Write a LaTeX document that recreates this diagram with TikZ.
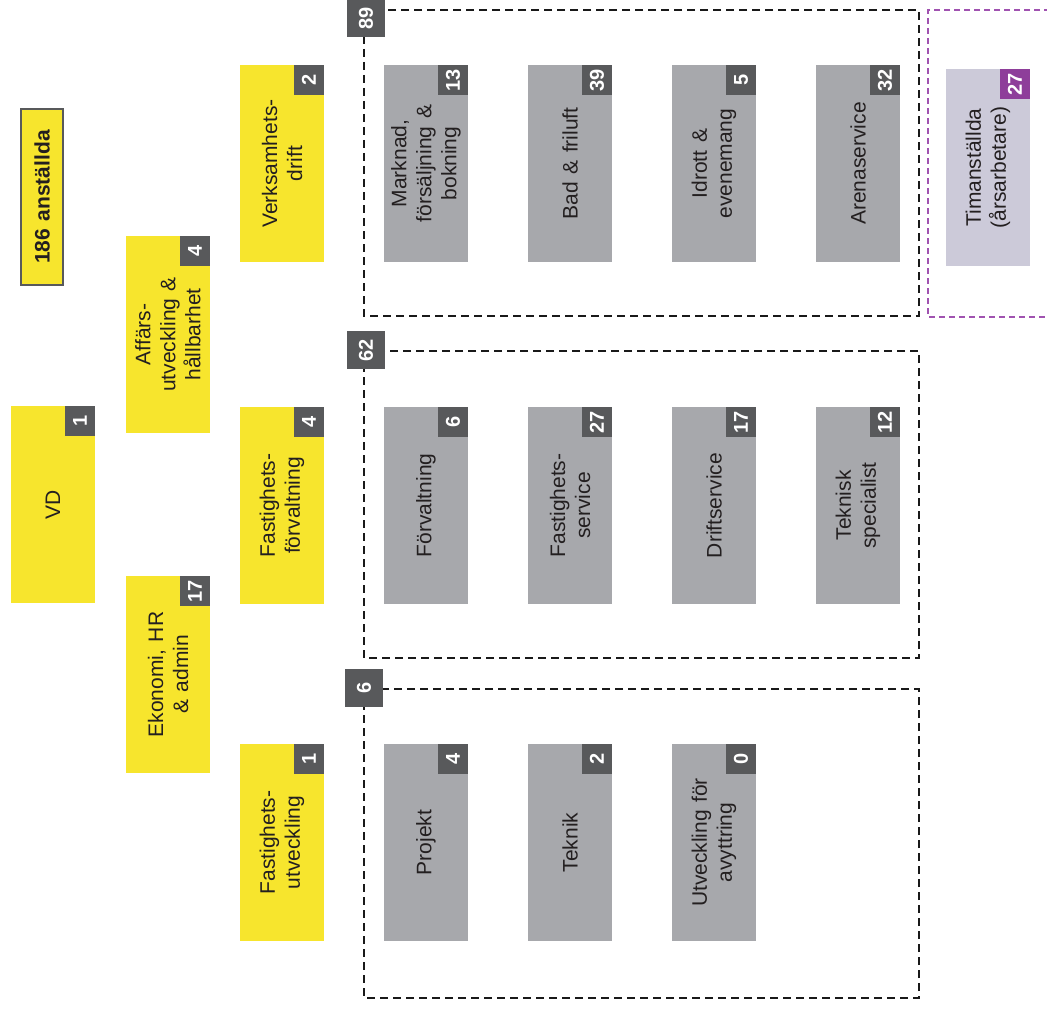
\documentclass[tikz,border=0pt]{standalone}
\usepackage{fontspec}
\setmainfont[WordSpace=1.3]{Liberation Sans}
\definecolor{ylw}{HTML}{F7E52D}
\definecolor{gbox}{HTML}{A7A8AC}
\definecolor{badgec}{HTML}{58595B}
\definecolor{lav}{HTML}{CCCAD9}
\definecolor{purp}{HTML}{8E3E9A}
\definecolor{purpdash}{HTML}{A052B0}
\definecolor{txt}{HTML}{231F20}
\tikzset{
  unitbox/.style={rotate=90, minimum width=197pt, minimum height=84pt, inner sep=0pt,
    align=center, text=txt, font=\fontsize{21}{25}\selectfont},
  ybox/.style={unitbox, fill=ylw},
  gbx/.style={unitbox, fill=gbox},
  lbx/.style={unitbox, fill=lav},
  badge/.style={rotate=90, minimum width=30pt, minimum height=30pt, inner sep=0pt,
    fill=badgec, text=white, font=\fontsize{20}{22}\selectfont\bfseries},
  pbadge/.style={badge, fill=purp},
  gbadge/.style={badge, minimum width=38pt, minimum height=38pt},
  grp/.style={draw=black!90, line width=2pt, dash pattern=on 8pt off 5pt},
  pgrp/.style={draw=purpdash, line width=1.4pt, dash pattern=on 6pt off 4pt},
}
\newcommand\orgunit[6]{%
  \node[#4] (#1) at ({#2+42},{#3+98.5}) {#5};
  \node[#6] (#1n) at ({#2+69},{#3+15}) {\csname orgnum\endcsname};
}
\begin{document}
\begin{tikzpicture}[x=1pt,y=-1pt]
\useasboundingbox (0,0) rectangle (1047,1014);
% title
\node[rotate=90, minimum width=176pt, minimum height=42pt, inner sep=0pt, fill=ylw,
  draw=badgec, line width=1.8pt, text=txt, font=\fontsize{21}{25}\selectfont\bfseries]
  (total) at (42,197) {186 anställda};
% group frames
\draw[grp] (364,10) rectangle (919,316);
\draw[grp] (364,351) rectangle (919,658);
\draw[grp] (364,689) rectangle (919,998);
\draw[pgrp] (1060,10) -- (928,10) -- (928,317) -- (1060,317);
\node[gbadge] (g89) at (366,18.5) {89};
\node[gbadge] (g62) at (366,350) {62};
\node[gbadge] (g6) at (364,688) {6};
% leadership column
\def\orgnum{1}\orgunit{vd}{11}{406}{ybox}{VD}{badge}
\def\orgnum{4}\orgunit{aff}{126}{236}{ybox}{Affärs-\\utveckling \&\\hållbarhet}{badge}
\def\orgnum{17}\orgunit{eko}{126}{576}{ybox}{Ekonomi, HR\\\& admin}{badge}
\def\orgnum{2}\orgunit{vdr}{240}{65}{ybox}{Verksamhets-\\drift}{badge}
\def\orgnum{4}\orgunit{ffv}{240}{407}{ybox}{Fastighets-\\förvaltning}{badge}
\def\orgnum{1}\orgunit{fut}{240}{744}{ybox}{Fastighets-\\utveckling}{badge}
% row 1
\def\orgnum{13}\orgunit{mark}{384}{65}{gbx}{Marknad,\\försäljning \&\\bokning}{badge}
\def\orgnum{39}\orgunit{bad}{528}{65}{gbx}{Bad \& friluft}{badge}
\def\orgnum{5}\orgunit{idr}{672}{65}{gbx}{Idrott \&\\evenemang}{badge}
\def\orgnum{32}\orgunit{are}{816}{65}{gbx}{Arenaservice}{badge}
\def\orgnum{27}\orgunit{tim}{946}{69}{lbx}{Timanställda\\(årsarbetare)}{pbadge}
% row 2
\def\orgnum{6}\orgunit{forv}{384}{407}{gbx}{Förvaltning}{badge}
\def\orgnum{27}\orgunit{fser}{528}{407}{gbx}{Fastighets-\\service}{badge}
\def\orgnum{17}\orgunit{drif}{672}{407}{gbx}{Driftservice}{badge}
\def\orgnum{12}\orgunit{tek}{816}{407}{gbx}{Teknisk\\specialist}{badge}
% row 3
\def\orgnum{4}\orgunit{proj}{384}{744}{gbx}{Projekt}{badge}
\def\orgnum{2}\orgunit{tekn}{528}{744}{gbx}{Teknik}{badge}
\def\orgnum{0}\orgunit{utv}{672}{744}{gbx}{Utveckling för\\avyttring}{badge}
\end{tikzpicture}
\end{document}
